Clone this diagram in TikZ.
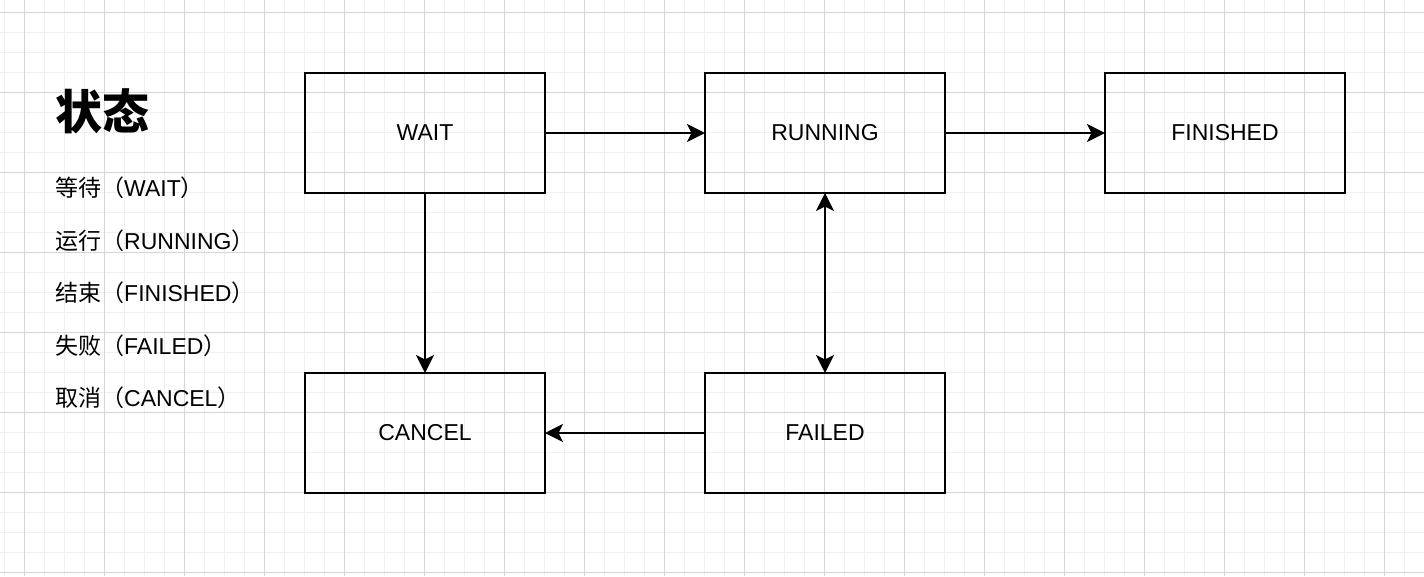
\documentclass[tikz,border=0pt]{standalone}
\usepackage{fontspec}
\setmainfont{Liberation Sans}
\newfontfamily\cjk{Noto Sans CJK SC}
\usetikzlibrary{arrows.meta}
\definecolor{gridminor}{HTML}{F0F0F0}
\definecolor{gridmajor}{HTML}{D6D6D6}
\tikzset{
  statebox/.style={draw=black, line width=2pt, minimum width=240pt, minimum height=120pt, inner sep=0pt, outer sep=0pt, font=\fontsize{23}{27}\selectfont},
  conn/.style={line width=2pt, -{Stealth[length=18pt, width=18pt, inset=4.5pt]}},
  biconn/.style={line width=2pt, {Stealth[length=18pt, width=18pt, inset=4.5pt]}-{Stealth[length=18pt, width=18pt, inset=4.5pt]}},
  legend/.style={anchor=base west, inner sep=0pt, font=\fontsize{23}{27}\selectfont},
}
\begin{document}
\begin{tikzpicture}[x=1pt,y=-1pt]
\useasboundingbox (0,0) rectangle (1424,576);
\fill[white] (0,0) rectangle (1424,576);
% grid
\foreach \x in {4,24,...,1424} \draw[gridminor, line width=1pt] (\x,0) -- (\x,576);
\foreach \y in {12,32,...,576} \draw[gridminor, line width=1pt] (0,\y) -- (1424,\y);
\foreach \x in {24,104,...,1424} \draw[gridmajor, line width=1pt] (\x,0) -- (\x,576);
\foreach \y in {12,92,...,576} \draw[gridmajor, line width=1pt] (0,\y) -- (1424,\y);
% title and legend
\node[anchor=west, inner sep=0pt, font=\fontsize{47}{52}\selectfont\cjk\bfseries] (title) at (55,111.5) {状态};
\node[legend] (l1) at (55,196.5) {{\cjk 等待（}WAIT{\cjk ）}};
\node[legend] (l2) at (55,249.1) {{\cjk 运行（}RUNNING{\cjk ）}};
\node[legend] (l3) at (55,301.7) {{\cjk 结束（}FINISHED{\cjk ）}};
\node[legend] (l4) at (55,354.3) {{\cjk 失败（}FAILED{\cjk ）}};
\node[legend] (l5) at (55,406.9) {{\cjk 取消（}CANCEL{\cjk ）}};
% states
\node[statebox] (wait) at (425,133) {WAIT};
\node[statebox] (running) at (825,133) {RUNNING};
\node[statebox] (finished) at (1225,133) {FINISHED};
\node[statebox] (cancel) at (425,433) {CANCEL};
\node[statebox] (failed) at (825,433) {FAILED};
% connectors
\draw[conn] (wait.east) -- (running.west);
\draw[conn] (running.east) -- (finished.west);
\draw[conn] (wait.south) -- (cancel.north);
\draw[biconn] (running.south) -- (failed.north);
\draw[conn] (failed.west) -- (cancel.east);
\end{tikzpicture}
\end{document}
